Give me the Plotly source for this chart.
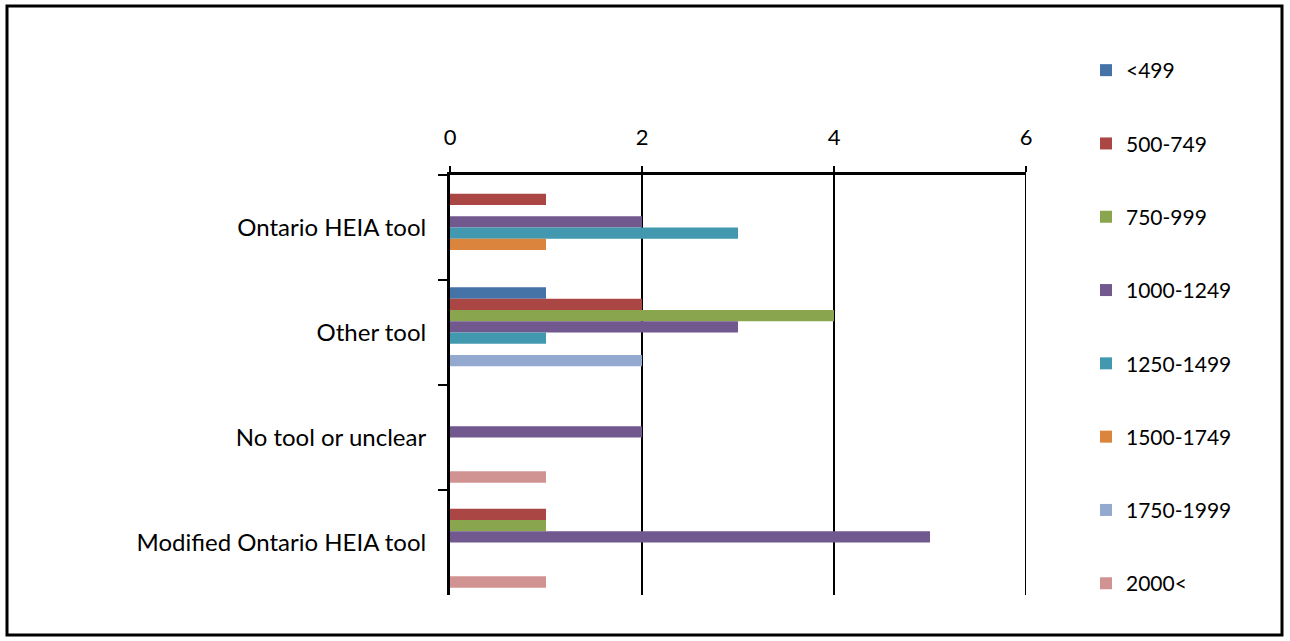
import plotly.graph_objects as go

categories = ["Ontario HEIA tool", "Other tool", "No tool or unclear", "Modified Ontario HEIA tool"]
series_names = ["<499", "500-749", "750-999", "1000-1249", "1250-1499", "1500-1749", "1750-1999", "2000<"]
values = {
    "<499":      [0, 1, 0, 0],
    "500-749":   [1, 2, 0, 1],
    "750-999":   [0, 4, 0, 1],
    "1000-1249": [2, 3, 2, 5],
    "1250-1499": [3, 1, 0, 0],
    "1500-1749": [1, 0, 0, 0],
    "1750-1999": [0, 2, 0, 0],
    "2000<":     [0, 0, 1, 1],
}
colors = ["#4572A7", "#AA4643", "#89A54E", "#71588F", "#4198AF", "#DB843D", "#93A9CF", "#D19392"]
x_ticks = [0, 2, 4, 6]

W, H = 1290, 641
L, R, T, B = 450, 1026, 175, 595

fig = go.Figure()
for name, col in zip(series_names, colors):
    fig.add_trace(go.Bar(
        y=categories, x=values[name], name=name, orientation="h",
        marker=dict(color=col, line=dict(width=0)),
        legendgroup=name,
    ))

font = "Lato, 'Open Sans', sans-serif"
fig.update_layout(
    width=W, height=H,
    margin=dict(l=L, r=W - R, t=T, b=H - B),
    paper_bgcolor="white", plot_bgcolor="white",
    barmode="group", bargap=0.14, bargroupgap=0,
    font=dict(family=font, size=22, color="black"),
    showlegend=True,
    legend=dict(
        x=(1086 - L) / (R - L), xanchor="left",
        y=(B - 50) / (B - T), yanchor="top",
        traceorder="grouped", tracegroupgap=43,
        font=dict(family=font, size=21, color="black"),
        itemclick=False, maxheight=620,
    ),
    xaxis=dict(
        side="top", range=[0, 6], tickvals=x_ticks,
        showgrid=True, gridcolor="black", gridwidth=2,
        showline=True, linecolor="black", linewidth=3,
        ticks="outside", ticklen=6, tickcolor="black", tickwidth=2,
        ticklabelstandoff=12,
        zeroline=False, fixedrange=True,
    ),
    yaxis=dict(
        autorange="reversed", type="category",
        showline=True, linecolor="black", linewidth=3,
        ticks="outside", tickson="boundaries", ticklen=9, tickcolor="black", tickwidth=2,
        showgrid=False, ticklabelstandoff=16, fixedrange=True,
        tickfont=dict(size=24),
    ),
    shapes=[
        dict(
            type="rect", xref="paper", yref="paper",
            x0=(7 - L) / (R - L), x1=(1282 - L) / (R - L),
            y0=(B - 635) / (B - T), y1=(B - 6) / (B - T),
            line=dict(color="black", width=3), fillcolor="rgba(0,0,0,0)", layer="below",
        ),
        dict(
            type="line", xref="x", yref="paper",
            x0=x_ticks[-1], x1=x_ticks[-1], y0=0, y1=1,
            line=dict(color="black", width=2), layer="above",
        ),
    ],
)

fig.write_html("out.html")
